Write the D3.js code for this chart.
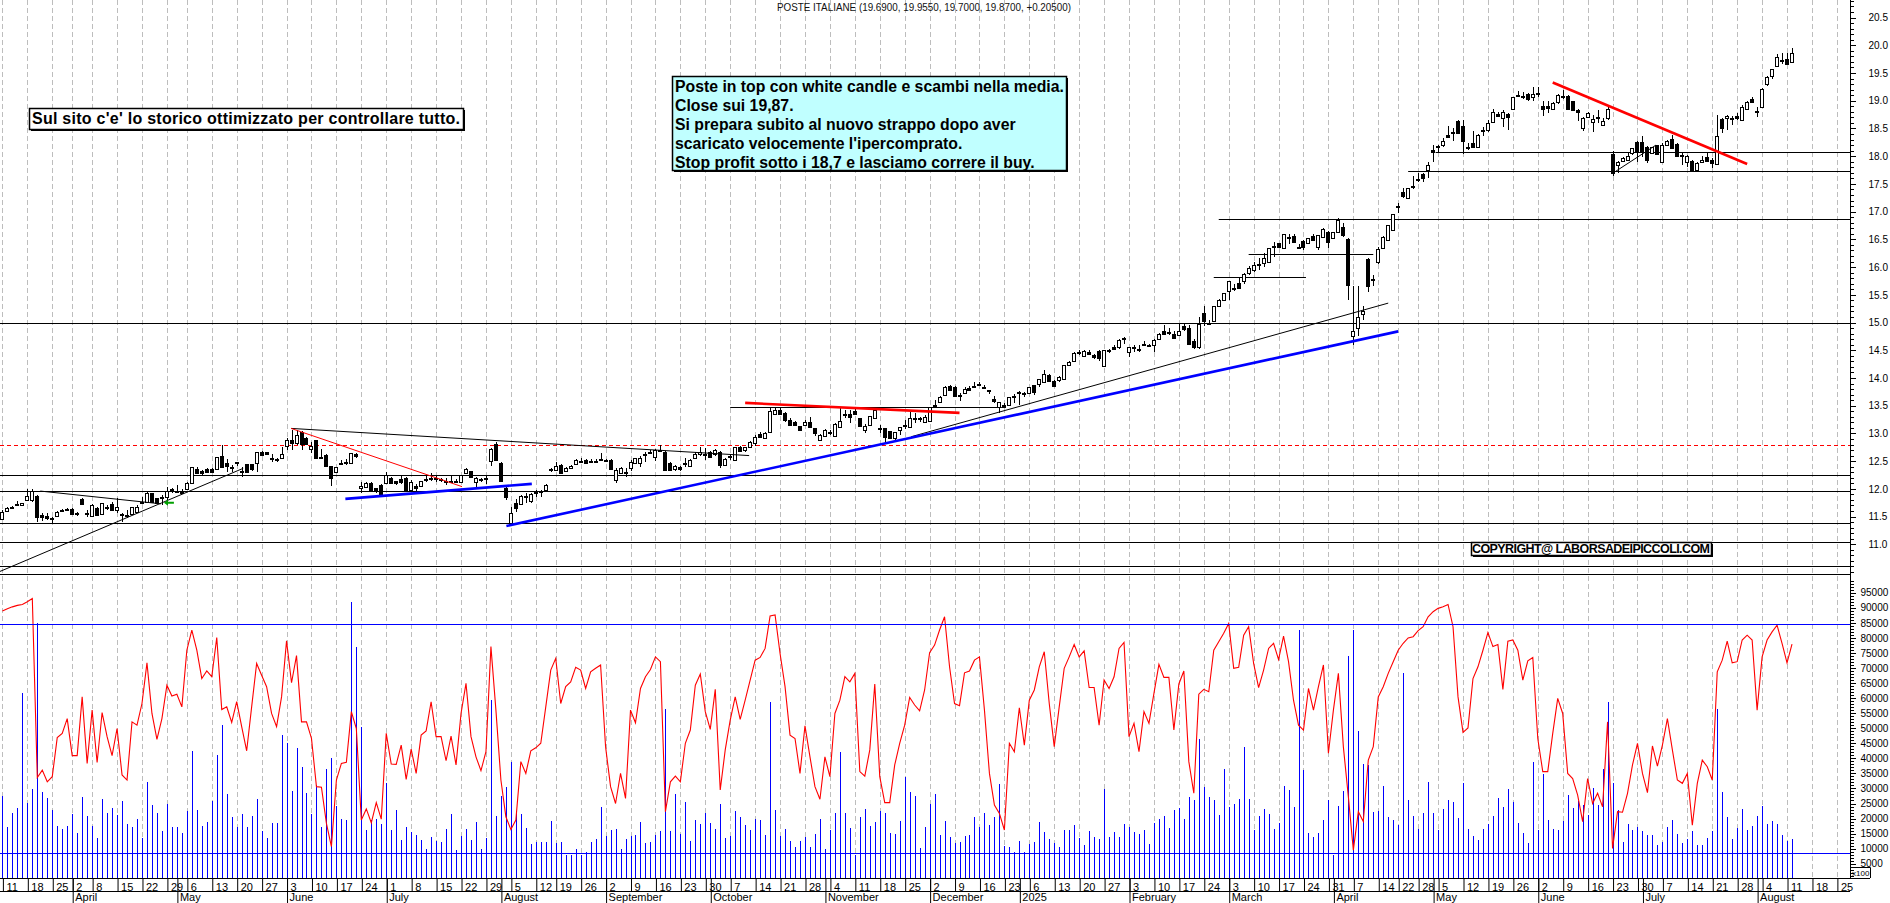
<!DOCTYPE html>
<html><head><meta charset="utf-8"><title>Poste Italiane</title>
<script src="https://cdn.jsdelivr.net/npm/d3@7/dist/d3.min.js"></script>
<style>html,body{margin:0;padding:0;background:#fff;overflow:hidden}svg{display:block;font-family:"Liberation Sans",Arial,sans-serif}</style>
</head><body><svg id="c" width="1890" height="903"></svg>
<script>
const titleText="POSTE ITALIANE (19.6900, 19.9550, 19.7000, 19.8700, +0.20500)";
// [open, high, low, close] per session
const ohlc=[
[11.46,11.62,11.44,11.59],[11.60,11.68,11.59,11.65],[11.67,11.69,11.64,11.65],[11.72,11.78,11.70,11.73],[11.70,11.75,11.70,11.74],[11.80,12.0,11.79,11.87],[11.79,11.99,11.77,11.96],[11.87,11.89,11.41,11.49],[11.53,11.56,11.42,11.49],[11.51,11.57,11.44,11.47],
[11.48,11.50,11.38,11.45],[11.51,11.60,11.51,11.58],[11.62,11.64,11.60,11.60],[11.63,11.65,11.60,11.61],[11.63,11.65,11.53,11.55],[11.57,11.59,11.51,11.56],[11.81,11.83,11.72,11.73],[11.56,11.62,11.50,11.57],[11.51,11.72,11.50,11.71],[11.66,11.68,11.51,11.53],
[11.55,11.75,11.54,11.74],[11.66,11.70,11.62,11.68],[11.72,11.76,11.60,11.61],[11.61,11.83,11.56,11.68],[11.54,11.56,11.41,11.53],[11.52,11.62,11.48,11.53],[11.55,11.68,11.55,11.67],[11.59,11.71,11.57,11.67],[11.76,11.86,11.74,11.77],[11.77,11.94,11.76,11.93],
[11.92,11.93,11.76,11.77],[11.83,11.84,11.74,11.74],[11.84,11.89,11.71,11.85],[11.85,12.03,11.71,11.96],[11.98,12.01,11.92,11.99],[11.96,12.07,11.92,11.97],[11.96,12.0,11.92,11.93],[11.99,12.13,11.98,12.10],[12.11,12.39,12.11,12.39],[12.35,12.4,12.28,12.29],
[12.32,12.34,12.23,12.28],[12.36,12.38,12.3,12.31],[12.36,12.38,12.29,12.31],[12.36,12.57,12.36,12.57],[12.59,12.79,12.37,12.39],[12.46,12.53,12.31,12.41],[12.40,12.43,12.31,12.40],[12.47,12.49,12.41,12.48],[12.33,12.4,12.22,12.32],[12.44,12.45,12.3,12.31],
[12.44,12.45,12.33,12.36],[12.46,12.66,12.31,12.66],[12.66,12.68,12.6,12.61],[12.66,12.67,12.61,12.63],[12.56,12.63,12.49,12.55],[12.53,12.56,12.49,12.54],[12.56,12.76,12.55,12.63],[12.77,12.91,12.7,12.89],[12.89,13.06,12.7,12.82],[12.82,13.06,12.79,12.98],
[13.03,13.05,12.7,12.81],[12.92,12.94,12.79,12.81],[12.72,12.85,12.64,12.77],[12.88,12.89,12.54,12.56],[12.56,12.71,12.53,12.57],[12.61,12.62,12.41,12.41],[12.41,12.41,12.05,12.19],[12.31,12.39,12.28,12.39],[12.47,12.52,12.43,12.47],[12.48,12.53,12.43,12.49],
[12.47,12.65,12.47,12.64],[12.63,12.65,12.55,12.59],[12.02,12.13,11.92,12.06],[12.03,12.12,12.02,12.10],[12.11,12.12,11.97,11.98],[12.01,12.02,11.93,11.96],[12.07,12.09,11.88,11.89],[12.10,12.31,12.08,12.25],[12.20,12.21,12.08,12.10],[12.14,12.15,12.07,12.10],
[12.18,12.24,12.08,12.12],[12.2,12.21,11.98,11.98],[11.98,12.16,11.98,12.12],[12.06,12.08,11.97,12.02],[12.06,12.15,12.04,12.14],[12.17,12.24,12.13,12.18],[12.2,12.28,12.15,12.2],[12.19,12.25,12.13,12.2],[12.17,12.2,12.12,12.16],[12.13,12.19,12.07,12.14],
[12.15,12.25,12.1,12.15],[12.14,12.17,12.11,12.15],[12.13,12.25,12.12,12.25],[12.28,12.38,12.27,12.35],[12.32,12.33,12.2,12.21],[12.13,12.22,12.01,12.19],[12.16,12.2,12.13,12.17],[12.18,12.24,12.09,12.19],[12.51,12.73,12.41,12.71],[12.8,12.84,12.5,12.52],
[12.47,12.49,12.14,12.14],[12.02,12.05,11.79,11.85],[11.38,11.67,11.36,11.56],[11.74,11.81,11.59,11.66],[11.73,11.89,11.72,11.87],[11.87,11.92,11.74,11.88],[11.78,11.92,11.74,11.9],[11.93,11.98,11.86,11.94],[11.95,11.98,11.86,11.96],[11.98,12.08,11.95,12.07],
[12.34,12.37,12.3,12.35],[12.34,12.48,12.32,12.42],[12.43,12.44,12.29,12.29],[12.32,12.4,12.31,12.38],[12.38,12.43,12.37,12.42],[12.44,12.54,12.43,12.52],[12.5,12.55,12.46,12.51],[12.52,12.53,12.47,12.47],[12.5,12.53,12.46,12.51],[12.51,12.53,12.49,12.51],
[12.53,12.65,12.51,12.54],[12.52,12.54,12.49,12.52],[12.52,12.53,12.35,12.35],[12.16,12.37,12.1,12.34],[12.29,12.4,12.28,12.38],[12.3,12.37,12.22,12.31],[12.37,12.52,12.33,12.49],[12.46,12.56,12.44,12.56],[12.47,12.6,12.4,12.56],[12.62,12.67,12.49,12.63],
[12.67,12.7,12.62,12.64],[12.58,12.72,12.5,12.70],[12.7,12.8,12.66,12.7],[12.67,12.68,12.34,12.34],[12.47,12.48,12.34,12.34],[12.36,12.43,12.33,12.42],[12.40,12.42,12.33,12.36],[12.46,12.55,12.4,12.47],[12.42,12.54,12.41,12.52],[12.56,12.66,12.54,12.62],
[12.62,12.76,12.6,12.67],[12.62,12.73,12.52,12.63],[12.66,12.68,12.57,12.57],[12.62,12.71,12.6,12.7],[12.67,12.68,12.37,12.43],[12.43,12.55,12.41,12.54],[12.58,12.63,12.52,12.59],[12.52,12.75,12.51,12.75],[12.75,12.78,12.68,12.69],[12.7,12.76,12.66,12.76],
[12.76,12.86,12.75,12.84],[12.83,12.97,12.78,12.93],[12.99,13.02,12.93,12.93],[12.91,13.03,12.9,13.0],[13.03,13.46,13.02,13.41],[13.35,13.48,13.33,13.42],[13.42,13.48,13.34,13.35],[13.36,13.38,13.21,13.24],[13.24,13.27,13.14,13.16],[13.2,13.22,13.13,13.15],
[13.13,13.14,13.05,13.06],[13.15,13.24,13.13,13.2],[13.2,13.3,13.11,13.12],[13.09,13.1,12.96,13.0],[12.88,12.99,12.87,12.97],[12.96,13.08,12.95,13.06],[13.03,13.07,12.97,13.02],[12.95,13.19,12.94,13.17],[13.12,13.45,13.1,13.23],[13.34,13.42,13.27,13.35],
[13.35,13.42,13.19,13.3],[13.41,13.44,13.34,13.35],[13.27,13.28,13.13,13.13],[13.07,13.17,13.0,13.13],[13.15,13.31,13.14,13.31],[13.27,13.43,13.26,13.42],[13.08,13.15,13.0,13.09],[13.09,13.1,12.82,12.94],[13.04,13.05,12.92,12.92],[12.91,13.03,12.87,13.02],
[13.06,13.12,12.97,13.11],[13.15,13.25,13.08,13.16],[13.12,13.41,13.1,13.27],[13.27,13.36,13.18,13.28],[13.26,13.3,13.2,13.27],[13.21,13.33,13.18,13.3],[13.23,13.47,13.22,13.47],[13.51,13.6,13.46,13.47],[13.56,13.67,13.55,13.65],[13.69,13.85,13.68,13.84],
[13.86,13.88,13.78,13.78],[13.83,13.85,13.68,13.68],[13.69,13.72,13.59,13.7],[13.73,13.83,13.72,13.81],[13.82,13.85,13.79,13.79],[13.85,13.93,13.82,13.86],[13.87,13.93,13.85,13.9],[13.83,13.88,13.8,13.84],[13.77,13.79,13.71,13.78],[13.62,13.68,13.54,13.59],
[13.48,13.57,13.37,13.57],[13.52,13.54,13.46,13.48],[13.51,13.65,13.5,13.65],[13.66,13.71,13.54,13.67],[13.75,13.77,13.51,13.73],[13.71,13.75,13.66,13.72],[13.72,13.84,13.71,13.84],[13.87,13.88,13.7,13.74],[13.9,13.99,13.84,13.98],[13.93,14.14,13.92,14.08],
[14.05,14.07,13.95,13.95],[13.95,13.96,13.85,13.86],[13.97,14.03,13.93,14.01],[13.99,14.24,13.98,14.23],[14.23,14.31,14.22,14.29],[14.31,14.46,14.3,14.45],[14.45,14.51,14.42,14.46],[14.39,14.5,14.38,14.48],[14.47,14.5,14.42,14.43],[14.41,14.43,14.34,14.37],
[14.49,14.51,14.3,14.36],[14.22,14.51,14.21,14.5],[14.5,14.53,14.45,14.51],[14.55,14.6,14.5,14.53],[14.55,14.7,14.53,14.68],[14.71,14.73,14.62,14.72],[14.46,14.55,14.38,14.55],[14.55,14.6,14.46,14.56],[14.52,14.6,14.46,14.53],[14.61,14.67,14.57,14.6],
[14.59,14.62,14.55,14.6],[14.59,14.7,14.46,14.68],[14.71,14.82,14.7,14.8],[14.85,14.95,14.8,14.8],[14.82,14.9,14.78,14.83],[14.8,14.85,14.7,14.72],[14.78,15.0,14.75,14.84],[14.94,15.0,14.85,14.88],[14.9,14.95,14.6,14.62],[14.67,14.7,14.52,14.56],
[14.55,15.1,14.53,14.97],[15.17,15.29,14.94,15.02],[15.0,15.05,14.96,15.0],[15.03,15.3,15.02,15.3],[15.29,15.42,15.28,15.41],[15.41,15.54,15.4,15.53],[15.57,15.75,15.41,15.75],[15.62,15.7,15.56,15.63],[15.72,15.8,15.6,15.63],[15.75,15.9,15.7,15.88],
[15.9,16.02,15.85,15.98],[15.95,16.1,15.92,16.03],[16.03,16.17,15.95,16.05],[16.07,16.25,16.0,16.16],[16.1,16.34,16.08,16.34],[16.37,16.46,16.19,16.38],[16.43,16.44,16.34,16.36],[16.34,16.6,16.33,16.59],[16.54,16.6,16.42,16.55],[16.56,16.6,16.44,16.46],
[16.36,16.42,16.34,16.37],[16.47,16.48,16.3,16.37],[16.43,16.52,16.42,16.52],[16.56,16.6,16.47,16.48],[16.37,16.58,16.3,16.58],[16.54,16.7,16.53,16.68],[16.63,16.65,16.34,16.46],[16.53,16.64,16.52,16.63],[16.64,16.88,16.63,16.85],[16.73,16.8,16.55,16.58],
[16.5,16.52,15.4,15.68],[14.75,15.65,14.6,14.85],[14.9,15.65,14.75,15.1],[15.15,15.3,15.05,15.2],[16.14,16.16,15.55,15.65],[15.78,15.86,15.65,15.78],[16.1,16.36,16.05,16.32],[16.34,16.56,16.33,16.54],[16.48,16.76,16.47,16.76],[16.67,16.96,16.66,16.95],
[17.09,17.15,16.97,17.1],[17.35,17.42,17.25,17.29],[17.24,17.43,17.23,17.42],[17.46,17.65,17.4,17.47],[17.58,17.69,17.54,17.59],[17.67,17.7,17.54,17.61],[17.75,17.9,17.6,17.85],[18.11,18.2,17.9,18.07],[18.17,18.2,18.08,18.18],[18.2,18.32,18.17,18.27],
[18.38,18.54,18.32,18.34],[18.43,18.5,18.28,18.44],[18.64,18.66,18.41,18.41],[18.54,18.65,18.04,18.28],[18.16,18.23,18.11,18.17],[18.23,18.46,18.16,18.16],[18.16,18.4,18.15,18.39],[18.47,18.53,18.36,18.48],[18.48,18.65,18.44,18.59],[18.61,18.85,18.6,18.8],
[18.76,18.79,18.7,18.73],[18.68,18.83,18.53,18.79],[18.76,18.77,18.47,18.71],[18.85,19.06,18.84,19.06],[19.1,19.18,19.07,19.11],[19.08,19.16,19.04,19.09],[19.12,19.14,19.0,19.03],[19.06,19.25,19.0,19.13],[19.13,19.25,19.07,19.14],[18.9,19.0,18.72,18.86],
[18.9,19.0,18.77,18.87],[18.86,18.97,18.85,18.96],[18.97,19.13,18.95,19.1],[19.08,19.2,19.04,19.09],[19.09,19.11,18.84,18.86],[18.99,19.0,18.82,18.84],[18.84,18.85,18.64,18.8],[18.51,18.7,18.46,18.68],[18.71,18.79,18.7,18.77],[18.62,18.74,18.44,18.67],
[18.7,18.83,18.6,18.71],[18.57,18.68,18.55,18.64],[18.68,18.92,18.66,18.86],[18.04,18.1,17.65,17.69],[17.84,17.91,17.7,17.9],[17.92,17.98,17.9,17.96],[17.94,18.05,17.93,18.0],[18.05,18.14,18.03,18.14],[18.26,18.28,17.9,18.08],[18.26,18.36,17.98,18.07],
[18.16,18.18,17.88,17.94],[18.06,18.16,18.05,18.16],[18.2,18.21,18.04,18.04],[17.9,18.23,17.88,18.2],[18.2,18.29,18.19,18.28],[18.31,18.38,18.14,18.14],[18.22,18.24,17.98,18.0],[18.02,18.05,17.85,18.03],[17.89,18.02,17.81,18.01],[17.91,17.93,17.72,17.73],
[17.75,17.9,17.73,17.87],[17.9,18.0,17.88,17.94],[17.98,18.05,17.9,17.91],[17.94,17.96,17.79,17.87],[17.86,18.74,17.84,18.36],[18.67,18.68,18.41,18.51],[18.68,18.74,18.47,18.73],[18.67,18.72,18.57,18.68],[18.73,18.77,18.65,18.68],[18.66,18.92,18.65,18.89],
[18.85,19.0,18.84,18.97],[19.04,19.07,18.96,18.98],[18.8,18.89,18.7,18.81],[18.89,19.23,18.88,19.22],[19.3,19.44,19.27,19.43],[19.45,19.58,19.4,19.58],[19.62,19.84,19.61,19.78],[19.72,19.87,19.67,19.73],[19.75,19.87,19.67,19.67],[19.69,19.955,19.68,19.87]];
// volume (thousands, panel axis reads x100)
const volumes=[27.5,17.2,21.8,23.5,61.8,25.3,29.8,85.0,28.8,26.8,22.8,17.5,16.5,17.5,21.5,15.2,27.1,20.8,17.5,13.5,26.5,21.8,23.5,21.2,25.8,18.2,17.2,19.8,13.5,32.1,24.5,21.8,15.9,24.8,17.2,17.2,15.2,22.5,42.4,22.8,17.5,18.8,25.8,41.1,51.0,28.1,20.5,17.2,21.5,17.2,20.8,26.5,15.9,13.5,18.5,18.5,47.7,45.1,29.1,43.4,37.1,28.5,21.5,31.1,17.2,36.4,40.1,24.2,19.8,19.5,92.0,77.0,50.5,16.2,19.5,19.8,18.2,31.8,16.2,22.8,12.9,17.2,15.5,14.5,12.9,9.9,13.9,12.5,12.2,16.5,21.5,9.6,14.2,16.5,12.9,18.8,9.9,13.5,59.3,20.8,27.5,30.5,38.8,22.5,21.5,16.9,11.5,12.2,12.2,12.2,19.2,11.9,12.2,7.9,7.9,9.9,7.9,8.9,12.2,13.2,23.8,14.2,16.2,16.5,9.9,13.2,
14.2,14.5,18.8,11.9,12.2,14.5,15.9,56.4,15.9,28.1,14.9,25.5,12.5,19.5,18.2,21.8,18.5,16.5,24.8,13.5,14.2,22.5,20.5,17.9,16.2,19.8,19.5,14.5,58.8,22.8,14.2,16.5,12.5,10.5,12.5,13.9,10.5,14.9,19.8,9.9,16.2,21.8,42.1,21.8,16.9,8.0,20.5,23.2,17.5,18.8,22.5,21.8,15.2,14.9,19.2,33.8,28.8,27.5,10.2,17.2,24.8,28.1,14.5,19.2,13.9,11.9,12.2,14.2,14.5,20.5,17.2,21.8,17.9,20.5,31.5,10.9,10.5,8.9,12.5,8.9,11.5,12.2,18.8,15.5,13.2,11.9,10.5,16.2,16.2,17.9,13.5,11.2,15.9,13.9,13.2,29.8,13.9,15.5,13.9,18.2,17.2,15.5,14.9,16.2,11.5,18.5,19.8,20.8,16.9,22.8,23.5,19.8,27.1,26.2,46.4,30.5,27.1,26.2,21.2,36.4,23.8,24.8,26.5,43.8,26.5,16.2,20.8,
23.2,21.5,16.5,18.5,30.8,29.5,23.8,82.6,36.1,15.2,13.9,15.2,19.5,26.2,8.0,24.2,29.1,74.0,82.6,49.1,38.1,37.8,22.2,22.5,30.8,20.5,19.5,17.9,68.4,26.2,20.8,16.5,21.8,32.1,21.8,16.2,23.2,26.2,25.5,20.2,31.8,16.5,14.2,12.9,16.5,18.2,20.8,26.8,23.8,29.8,25.5,18.5,15.2,11.9,38.8,16.2,34.8,19.5,16.5,16.2,19.2,27.8,23.5,25.8,24.5,21.2,30.1,24.5,36.4,58.8,31.8,22.8,12.2,18.2,16.2,17.2,15.9,14.5,14.5,11.2,12.2,17.2,19.5,14.9,11.9,13.2,15.9,11.2,11.2,13.5,15.9,56.4,28.8,20.5,13.2,16.9,23.2,16.2,17.5,20.8,24.2,18.2,19.2,18.2,14.5,12.5,13.2];
// red oscillator line (same units)
const oscillator=[88.9,89.7,90.3,90.8,91.1,92.0,93.1,33.6,36.1,32.2,33.9,46.9,48.3,53.2,40.9,40.9,60.4,38.3,56.0,38.6,55.2,47.2,40.9,49.9,34.5,32.8,52.1,51.0,58.2,71.7,54.9,46.3,53.2,64.3,60.7,61.3,57.1,75.9,82.6,75.9,66.5,69.0,67.1,80.1,56.2,57.1,51.9,58.8,50.5,42.5,57.1,71.5,67.6,63.8,54.9,50.5,60.4,79.0,65.1,74.1,52.1,52.1,46.6,30.6,30.4,18.4,10.7,32.8,38.3,38.7,55.5,49.9,19.5,23.2,18.6,25.3,19.8,48.3,38.1,38.0,44.4,33.0,43.1,35.0,47.7,49.1,58.8,47.2,47.2,39.2,47.4,37.8,54.9,64.9,47.2,40.5,35.9,42.2,77.1,56.0,32.8,20.6,16.4,19.5,38.9,35.0,42.5,43.5,45.0,57.1,69.3,73.2,58.2,63.8,65.4,70.2,69.3,63.2,68.7,69.9,71.0,43.8,30.6,25.0,35.0,26.7,
56.0,51.8,63.2,67.1,69.5,73.7,72.1,22.3,32.2,34.1,32.2,45.0,49.4,64.3,68.0,55.5,49.6,62.9,29.5,42.8,52.7,60.4,52.9,59.3,66.0,72.6,73.5,76.5,87.3,87.6,74.8,63.8,47.7,46.6,35.0,50.8,40.5,30.6,26.4,40.5,33.9,54.9,59.3,67.1,65.4,68.2,35.6,34.1,42.8,64.7,33.9,25.3,25.3,37.8,45.0,51.0,60.2,57.7,55.8,62.7,75.1,77.6,82.6,87.0,70.4,58.2,57.5,68.4,69.0,72.6,73.7,56.0,35.0,24.5,21.7,16.2,45.0,42.2,56.8,44.4,59.3,62.7,70.4,75.4,58.2,43.9,57.1,69.9,73.7,77.8,73.7,75.7,63.5,63.5,51.0,66.0,63.2,67.1,76.5,78.5,47.2,51.6,42.2,55.5,51.6,61.6,71.2,66.9,66.9,49.4,64.7,69.0,38.9,28.4,61.3,62.9,62.1,75.9,78.7,81.5,84.8,69.9,70.2,80.9,83.7,71.5,63.5,
69.3,76.5,78.2,72.8,80.6,72.1,59.3,51.0,49.4,63.2,56.0,63.8,71.0,41.7,56.0,68.2,43.8,27.3,9.5,22.3,19.0,39.4,43.9,60.4,63.8,68.2,72.1,75.9,78.2,80.0,80.4,82.4,83.7,87.0,88.7,89.8,90.3,91.1,83.7,60.4,48.6,50.1,66.5,70.4,75.9,81.8,77.1,77.8,62.9,78.9,79.3,75.9,66.0,72.4,73.5,46.6,35.6,35.6,48.3,59.9,54.9,35.0,33.3,27.8,19.0,33.3,25.0,28.4,23.9,52.1,10.1,22.3,22.1,28.4,37.8,45.0,35.0,28.6,44.1,37.4,44.4,53.2,42.8,32.8,31.7,35.0,17.8,31.7,39.4,37.2,32.8,68.7,72.6,78.9,71.7,72.1,79.3,80.9,79.3,56.0,73.7,79.3,82.0,84.2,78.2,71.7,77.9];
const dayLabels=[11,18,25,2,8,15,22,29,6,13,20,27,3,10,17,24,1,8,15,22,29,5,12,19,26,2,9,16,23,30,7,14,21,28,4,11,18,25,2,9,16,23,6,13,20,27,3,10,17,24,3,10,17,24,31,7,14,22,28,5,12,19,26,2,9,16,23,30,7,14,21,28,4,11,18,25];
const dayIndex=[0,5,10,14,18,23,28,33,37,42,47,52,57,62,67,72,77,82,87,92,97,102,107,111,116,121,126,131,136,141,146,151,156,161,166,171,176,181,186,191,196,201,206,211,216,221,226,231,236,241,246,251,256,261,266,271,276,280,284,288,293,298,303,308,313,318,323,328,333,338,343,348,353,358,363,368];
const monthLabels=["April","May","June","July","August","September","October","November","December","2025","February","March","April","May","June","July","August"];
const monthIndex=[14,35,57,77,100,121,142,165,186,204,226,246,267,287,308,329,352];
// full-width horizontal levels (price)
const levels=[15.0,12.25,11.97,11.38,11.035,10.6,10.46];
const dashedLevel=12.79;
// partial horizontal levels: [from idx, to idx, price]
const shortLevels=[[244,372,16.86],[287.5,372,18.07],[282,372,17.73],[250,275,16.23],[243,261.5,15.82],[146,200.5,13.47]];
// trendlines: [idx0, price0, idx1, price1, colour, width]
const trendlines=[
[-0.5,10.51,48.3,12.37,"#000",1],[7.6,11.96,31.8,11.73,"#000",1],[57.9,13.09,149.8,12.6,"#000",1],[57.9,13.09,92.2,12.04,"#f00",1],
[182.3,12.94,278,15.35,"#000",1],[323,17.69,331.7,18.2,"#000",1],
[68.8,11.82,106.2,12.09,"#00f",2.6],[101.1,11.33,280,14.84,"#00f",2.6],[149,13.55,192,13.37,"#f00",2.6],[311,19.33,350,17.86,"#f00",2.6]];
const volumeLevels=[84.5,8.45];
const arrowPoint=[33.4,11.75];
const noteLeft="Sul sito c'e' lo storico ottimizzato per controllare tutto.";
const noteMain=["Poste in top con white candle e scambi nella media.","Close sui 19,87.","Si prepara subito al nuovo strappo dopo aver","scaricato velocemente l'ipercomprato.","Stop profit sotto i 18,7 e lasciamo correre il buy."];
const copyright="COPYRIGHT@ LABORSADEIPICCOLI.COM";

const svg=d3.select("#c");
const AX=1850;
const x=d3.scaleLinear().domain([0,359]).range([2.4,2.4+4.985*359]);
const y=d3.scaleLinear().domain([20,11]).range([45.3,544.3]);
const yV=d3.scaleLinear().domain([0,95]).range([878.8,592.7]);
const px=i=>Math.round(x(i));

// grid
svg.append("g").selectAll("line").data(dayIndex).join("line")
 .attr("x1",d=>px(d)+.5).attr("x2",d=>px(d)+.5).attr("y1",0).attr("y2",878)
 .attr("stroke","#bdbdbd").attr("stroke-dasharray","5,3");

// volume bars
svg.append("g").selectAll("line").data(volumes).join("line")
 .attr("x1",(d,i)=>px(i)+.5).attr("x2",(d,i)=>px(i)+.5).attr("y1",878).attr("y2",d=>Math.round(yV(d)))
 .attr("stroke","#0000ff").attr("stroke-width",1);
// oscillator
svg.append("path").datum(oscillator).attr("fill","none").attr("stroke","#f00").attr("stroke-width",1.1)
 .attr("d",d3.line().x((d,i)=>x(i)).y(d=>yV(d)));
svg.append("g").selectAll("line").data(volumeLevels).join("line")
 .attr("x1",0).attr("x2",AX).attr("y1",d=>Math.round(yV(d))+.5).attr("y2",d=>Math.round(yV(d))+.5)
 .attr("stroke","#0000ff").attr("stroke-width",1.2);

// horizontal levels
svg.append("g").selectAll("line").data(levels).join("line")
 .attr("x1",0).attr("x2",AX).attr("y1",d=>Math.round(y(d))+.5).attr("y2",d=>Math.round(y(d))+.5)
 .attr("stroke","#000").attr("stroke-width",1);
svg.append("line").attr("x1",0).attr("x2",AX).attr("y1",Math.round(y(dashedLevel))+.5).attr("y2",Math.round(y(dashedLevel))+.5)
 .attr("stroke","#f00").attr("stroke-dasharray","4,3");
svg.append("g").selectAll("line").data(shortLevels).join("line")
 .attr("x1",d=>x(d[0])).attr("x2",d=>Math.min(AX,x(d[1]))).attr("y1",d=>Math.round(y(d[2]))+.5).attr("y2",d=>Math.round(y(d[2]))+.5)
 .attr("stroke","#000");

// candles
const g=svg.append("g");
ohlc.forEach((c,i)=>{
  const [o,h,l,cl]=c, X=px(i)+.5;
  g.append("line").attr("x1",X).attr("x2",X).attr("y1",y(h)).attr("y2",y(l)).attr("stroke","#000").attr("shape-rendering","crispEdges");
  const top=Math.round(y(Math.max(o,cl))), bot=Math.round(y(Math.min(o,cl)));
  const bh=Math.max(bot-top,1);
  g.append("rect").attr("x",X-2).attr("width",3).attr("y",top+.5).attr("height",bh)
   .attr("fill",cl>=o?"#fff":"#000").attr("stroke","#000").attr("stroke-width",1).attr("shape-rendering","crispEdges");
});

// trendlines
svg.append("g").selectAll("line").data(trendlines).join("line")
 .attr("x1",d=>x(d[0])).attr("y1",d=>y(d[1])).attr("x2",d=>x(d[2])).attr("y2",d=>y(d[3]))
 .attr("stroke",d=>d[4]).attr("stroke-width",d=>d[5]);
// green arrow
{const ax=x(arrowPoint[0]),ay=y(arrowPoint[1]);
 svg.append("path").attr("d",d3.line()([[ax-5,ay],[ax-1,ay-3],[ax-1,ay-1],[ax+5,ay-1],[ax+5,ay+1],[ax-1,ay+1],[ax-1,ay+3]])+"Z").attr("fill","#00a000");}

// right axes
const fmtP=d3.format(".1f");
const axP=svg.append("g").attr("transform",`translate(${AX+.5},0)`)
 .call(d3.axisRight(y).tickValues(d3.range(105,210).map(d=>d/10)).tickSize(3).tickFormat(""));
const majP=svg.append("g").attr("transform",`translate(${AX+.5},0)`)
 .call(d3.axisRight(y).tickValues(d3.range(22,42).map(d=>d/2)).tickSize(5).tickPadding(13).tickFormat(d=>d<11?"":fmtP(d)));
const axV=svg.append("g").attr("transform",`translate(${AX+.5},0)`)
 .call(d3.axisRight(yV).tickValues(d3.range(1,100)).tickSize(3).tickFormat(""));
const majV=svg.append("g").attr("transform",`translate(${AX+.5},0)`)
 .call(d3.axisRight(yV).tickValues(d3.range(5,100,5)).tickSize(5).tickPadding(5).tickFormat(d=>String(d*1000)));
[axP,majP,axV,majV].forEach(s=>{s.select(".domain").remove();s.selectAll("text").attr("font-size",10).attr("font-family","Liberation Sans").attr("fill","#000");
 s.selectAll("line").attr("shape-rendering","crispEdges");});
svg.append("line").attr("x1",AX+.5).attr("x2",AX+.5).attr("y1",0).attr("y2",878).attr("stroke","#000");
// x100 box
svg.append("path").attr("d",`M${AX+.5},867.5H1870.5V878`).attr("fill","#fff").attr("stroke","#000").attr("stroke-width",1);
svg.append("text").attr("x",AX+2).attr("y",876).attr("font-size",8).text("x100");

// bottom axes
const axD=svg.append("g").attr("transform","translate(.5,878)")
 .call(d3.axisBottom(x).tickValues(dayIndex).tickSize(14).tickFormat((d,i)=>dayLabels[i]));
axD.select(".domain").remove();
axD.selectAll("text").attr("text-anchor","start").attr("x",3).attr("y",5).attr("dy",".71em").attr("font-size",11).attr("font-family","Liberation Sans").attr("fill","#000");
const axM=svg.append("g").attr("transform","translate(.5,878)")
 .call(d3.axisBottom(x).tickValues(monthIndex).tickSize(25).tickFormat((d,i)=>monthLabels[i]));
axM.select(".domain").remove();
axM.selectAll("text").attr("text-anchor","start").attr("x",2).attr("y",15).attr("dy",".71em").attr("font-size",11).attr("font-family","Liberation Sans").attr("fill","#000");
svg.append("line").attr("x1",0).attr("x2",1870).attr("y1",878.5).attr("y2",878.5).attr("stroke","#000");
svg.append("line").attr("x1",0).attr("x2",AX).attr("y1",891.5).attr("y2",891.5).attr("stroke","#000");

// title
svg.append("text").attr("x",777).attr("y",11).attr("font-size",10).attr("fill","#111").attr("textLength",294).attr("lengthAdjust","spacingAndGlyphs").text(titleText);

// notes
const box=(x0,y0,w,h,fill)=>{
 svg.append("rect").attr("x",x0+2).attr("y",y0+2).attr("width",w).attr("height",h).attr("fill","#000");
 svg.append("rect").attr("x",x0+.5).attr("y",y0+.5).attr("width",w).attr("height",h).attr("fill",fill).attr("stroke","#000").attr("stroke-width",1.5);
};
box(29,108,434,21,"#fff");
svg.append("text").attr("x",32).attr("y",124).attr("font-size",16).attr("font-weight","bold").attr("textLength",428).attr("lengthAdjust","spacing").text(noteLeft);
box(672,76,394,94,"#c0ffff");
svg.append("g").selectAll("text").data(noteMain).join("text")
 .attr("x",675).attr("y",(d,i)=>92+i*19).attr("font-size",15.8).attr("font-weight","bold").text(d=>d);
box(1471,542,240,13,"#fff");
svg.append("text").attr("x",1472).attr("y",553).attr("font-size",12.5).attr("font-weight","bold").attr("textLength",238).attr("lengthAdjust","spacing").text(copyright);
</script></body></html>
